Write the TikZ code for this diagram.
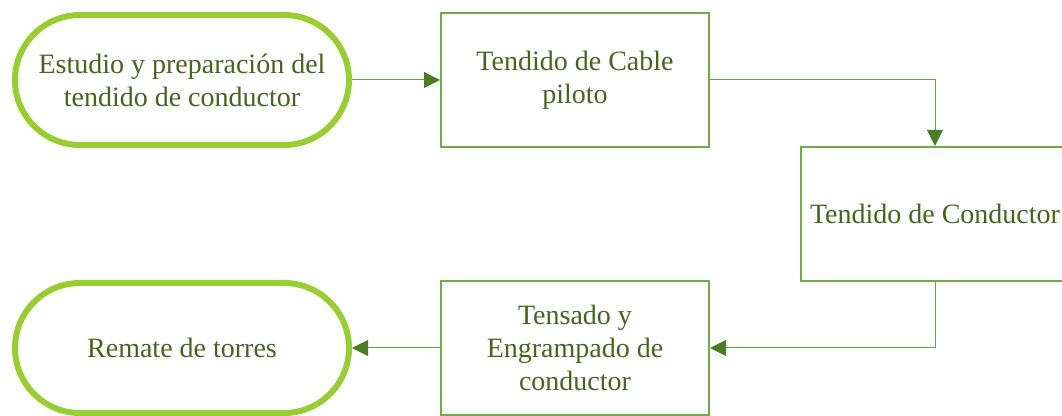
\documentclass[tikz,border=0pt]{standalone}
\usepackage{fontspec}
\setmainfont{Liberation Serif}
\usetikzlibrary{arrows.meta}
\definecolor{limegreen}{RGB}{154,204,52}
\definecolor{boxgreen}{RGB}{112,173,71}
\definecolor{linegreen}{RGB}{106,160,72}
\definecolor{tipgreen}{RGB}{76,125,38}
\definecolor{textgreen}{RGB}{72,98,34}
\tikzset{
  txt/.style = {text=textgreen, align=center, font=\fontsize{14}{16.5}\selectfont, inner sep=0pt},
  terminal/.style = {txt, draw=limegreen, line width=3pt, rounded corners=32.5pt,
                     minimum width=167pt, minimum height=65pt},
  process/.style = {txt, draw=boxgreen, line width=1pt, minimum width=134pt, minimum height=67pt},
  flow/.style = {draw=linegreen, line width=0.5pt, -{Triangle[length=8pt,width=8pt,color=tipgreen]}}
}
\begin{document}
\begin{tikzpicture}[x=0.5pt,y=-0.5pt]
      \useasboundingbox (0,0) rectangle (1062,416);
      \clip (0,0) rectangle (1062,416);
      \node [terminal] (estudio) at (182,80) {Estudio y preparación del\\tendido de conductor};
      \node [process] (piloto) at (575,80) {Tendido de Cable\\piloto};
      \node [process] (conductor) at (935,214) {Tendido de Conductor};
      \node [process] (tensado) at (575,348) {Tensado y\\Engrampado de\\conductor};
      \node [terminal] (remate) at (182,348) {Remate de torres};
      \draw [flow] (estudio.east) -- (piloto.west);
      \draw [flow] (piloto.east) -| (conductor.north);
      \draw [flow] (conductor.south) |- (tensado.east);
      \draw [flow] (tensado.west) -- (remate.east);
\end{tikzpicture}
\end{document}
